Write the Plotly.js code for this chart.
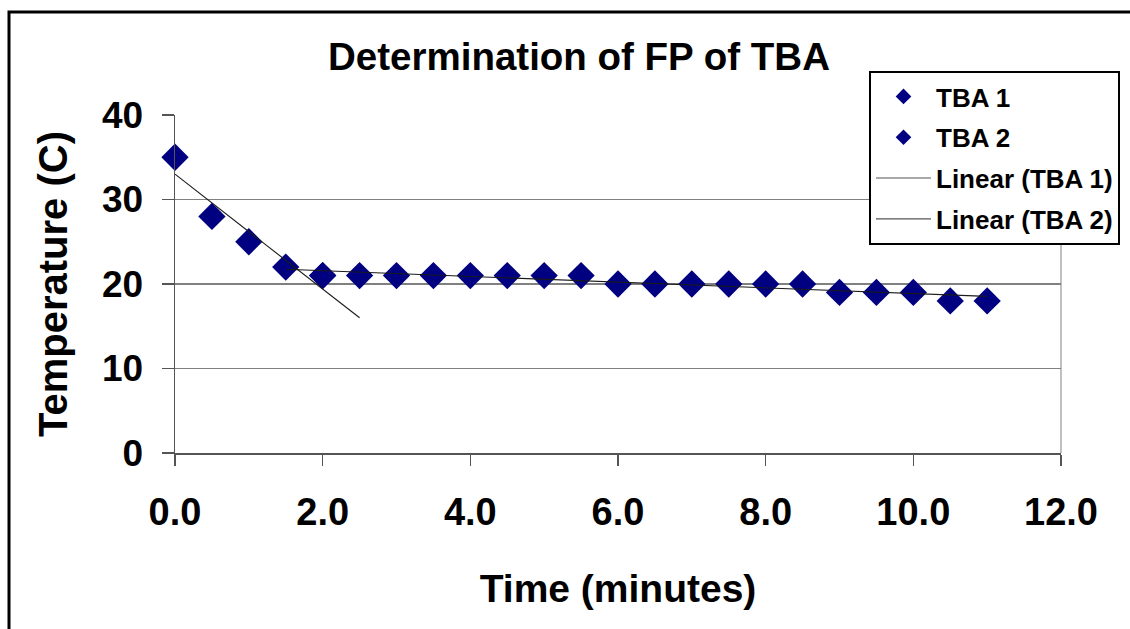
<!DOCTYPE html>
<html>
<head>
<meta charset="utf-8">
<script src="https://cdn.plot.ly/plotly-3.0.1.min.js"></script>
<style>
  html, body { margin: 0; padding: 0; background: #ffffff; }
  #chart { width: 1130px; height: 629px; }
</style>
</head>
<body>
<div id="chart"></div>
<script>
// ---- Data ----
const tba1Time = [0.0, 0.5, 1.0, 1.5, 2.0];
const tba1Temp = [35, 28, 25, 22, 21];

const tba2Time = [2.0, 2.5, 3.0, 3.5, 4.0, 4.5, 5.0, 5.5, 6.0, 6.5, 7.0, 7.5, 8.0, 8.5, 9.0, 9.5, 10.0, 10.5, 11.0];
const tba2Temp = [21, 21, 21, 21, 21, 21, 21, 21, 20, 20, 20, 20, 20, 20, 19, 19, 19, 18, 18];

const seriesNames = ["TBA 1", "TBA 2", "Linear (TBA 1)", "Linear (TBA 2)"];
const xTickVals = [0, 2, 4, 6, 8, 10, 12];
const xTickText = ["0.0", "2.0", "4.0", "6.0", "8.0", "10.0", "12.0"];
const yTickVals = [0, 10, 20, 30, 40];

// Excel-style trendline: least-squares fit, with forward/backward forecast
const tba1Forward = 0.5;
const tba2Backward = 0.5;

function linearFit(xs, ys) {
  const n = xs.length;
  const mx = xs.reduce((a, b) => a + b, 0) / n;
  const my = ys.reduce((a, b) => a + b, 0) / n;
  let sxy = 0, sxx = 0;
  for (let i = 0; i < n; i++) {
    sxy += (xs[i] - mx) * (ys[i] - my);
    sxx += (xs[i] - mx) * (xs[i] - mx);
  }
  const slope = sxy / sxx;
  return { slope: slope, intercept: my - slope * mx };
}
function trendLine(xs, ys, back, fwd) {
  const f = linearFit(xs, ys);
  const x0 = Math.min(...xs) - back;
  const x1 = Math.max(...xs) + fwd;
  return { x: [x0, x1], y: [f.intercept + f.slope * x0, f.intercept + f.slope * x1] };
}

const t1 = trendLine(tba1Time, tba1Temp, 0, tba1Forward);
const t2 = trendLine(tba2Time, tba2Temp, tba2Backward, 0);

const navy = "#000080";
const markerStyle = { symbol: "diamond", size: 21, color: navy, line: { width: 0 } };
const legendMarker = { symbol: "diamond", size: 12, color: navy, line: { width: 0 } };
const trendStyle = { color: "#1a1a1a", width: 1.1 };
const legendLineStyle = { color: "#555555", width: 1.2 };

const traces = [
  // data markers (legend entries come from the small-marker entries below)
  { type: "scatter", mode: "markers", name: seriesNames[0], legendgroup: "g1", showlegend: false, x: tba1Time, y: tba1Temp, marker: markerStyle, cliponaxis: false },
  { type: "scatter", mode: "markers", name: seriesNames[1], legendgroup: "g2", showlegend: false, x: tba2Time, y: tba2Temp, marker: markerStyle, cliponaxis: false },
  // trendlines
  { type: "scatter", mode: "lines", name: seriesNames[2], legendgroup: "g3", showlegend: false, x: t1.x, y: t1.y, line: trendStyle },
  { type: "scatter", mode: "lines", name: seriesNames[3], legendgroup: "g4", showlegend: false, x: t2.x, y: t2.y, line: trendStyle },
  // legend entries
  { type: "scatter", mode: "markers", name: seriesNames[0], legendgroup: "g1", x: [null], y: [null], marker: legendMarker },
  { type: "scatter", mode: "markers", name: seriesNames[1], legendgroup: "g2", x: [null], y: [null], marker: legendMarker },
  { type: "scatter", mode: "lines", name: seriesNames[2], legendgroup: "g3", x: [null], y: [null], line: legendLineStyle },
  { type: "scatter", mode: "lines", name: seriesNames[3], legendgroup: "g4", x: [null], y: [null], line: legendLineStyle }
];

// plot area in pixels: left 175, right 1061, top 115, bottom 453
const L = 175, R = 1061, T = 115, B = 453;
const W = R - L, H = B - T;
const px = v => (v - L) / W;
const py = v => (B - v) / H;

const boldFont = "Liberation Sans, Arial, sans-serif";

const layout = {
  width: 1130,
  height: 629,
  autosize: false,
  margin: { l: L, r: 1130 - R, t: T, b: 629 - B, pad: 0, autoexpand: false },
  paper_bgcolor: "#ffffff",
  plot_bgcolor: "#ffffff",
  showlegend: true,
  title: {
    text: "Determination of FP of TBA",
    font: { family: boldFont, size: 38.5, color: "#000000", weight: "bold" },
    x: 579 / 1130, xref: "container", xanchor: "center",
    y: 1 - 57 / 629, yref: "container", yanchor: "middle"
  },
  xaxis: {
    range: [0, 12],
    tickvals: xTickVals,
    ticktext: xTickText,
    ticks: "outside", ticklen: 11, tickwidth: 1.5, tickcolor: "#555555",
    showline: true, linecolor: "#555555", linewidth: 1.5,
    showgrid: false, zeroline: false,
    tickfont: { family: boldFont, size: 38, color: "#000000", weight: "bold" },
    ticklabelstandoff: 14,
    title: { text: "Time (minutes)", font: { family: boldFont, size: 39, color: "#000000", weight: "bold" }, standoff: 42 },
    fixedrange: true
  },
  yaxis: {
    range: [0, 40],
    tickvals: yTickVals,
    ticks: "outside", ticklen: 12, tickwidth: 1.5, tickcolor: "#555555",
    showline: true, linecolor: "#555555", linewidth: 1.5,
    showgrid: true, gridcolor: "#808080", gridwidth: 1.5,
    zeroline: false,
    tickfont: { family: boldFont, size: 37, color: "#000000", weight: "bold" },
    ticklabelstandoff: 11,
    title: { text: "Temperature (C)", font: { family: boldFont, size: 40, color: "#000000", weight: "bold" }, standoff: 22 },
    fixedrange: true
  },
  legend: {
    x: px(869), y: py(71), xanchor: "left", yanchor: "top",
    xref: "paper", yref: "paper",
    bgcolor: "#ffffff", bordercolor: "#000000", borderwidth: 2,
    font: { family: boldFont, size: 26, color: "#000000", weight: "bold" },
    itemwidth: 55,
    tracegroupgap: 4,
    traceorder: "grouped"
  },
  shapes: [
    // right border of the plot area
    { type: "line", xref: "paper", yref: "paper", x0: 1, x1: 1, y0: 0, y1: 1, line: { color: "#c0c0c0", width: 2 }, layer: "below" },
    // outer chart border (extends past the picture on the right and bottom)
    { type: "rect", xref: "paper", yref: "paper", x0: px(9), x1: px(1140), y0: py(12), y1: py(640), line: { color: "#000000", width: 3 }, fillcolor: "rgba(0,0,0,0)", layer: "above" }
  ]
};

Plotly.newPlot("chart", traces, layout, { displayModeBar: false, staticPlot: true });
</script>
</body>
</html>
